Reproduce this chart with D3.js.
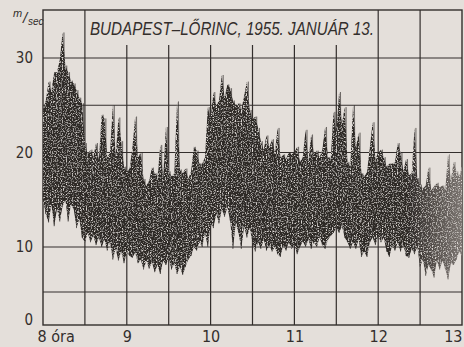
<!DOCTYPE html>
<html>
<head>
<meta charset="utf-8">
<script src="https://cdn.jsdelivr.net/npm/d3@7"></script>
<style>
  html, body { margin: 0; padding: 0; background: #e4dfda; }
  svg { display: block; }
</style>
</head>
<body>
<svg id="chart" width="464" height="347"></svg>
<script>
const hi = [
  24.5, 25.5, 27.5, 26.5, 28.5, 28.5, 29.8, 32.7, 29.2, 28.5, 27.6, 27.3, 26.6, 25.8, 25.2,
  21.0, 19.8, 20.3, 19.5, 21.0, 19.2, 24.0, 23.6, 19.5, 20.0, 25.0, 19.5, 23.7, 21.2, 18.5,
  18.0, 18.3, 20.5, 23.8, 19.5, 20.0, 17.2, 16.5, 17.0, 18.4, 17.8, 17.5, 20.8, 17.3, 22.7,
  18.0, 17.5, 17.8, 25.4, 18.2, 17.8, 18.3, 17.2, 18.0, 20.6, 20.2, 18.8, 18.8, 19.5, 24.8,
  23.5, 26.4, 25.0, 25.5, 28.2, 25.8, 27.2, 26.8, 25.5, 25.0, 25.2, 24.5, 26.0, 27.5, 24.5,
  23.5, 23.8, 22.6, 21.2, 20.3, 21.8, 20.5, 21.4, 20.0, 22.6, 19.5, 19.8, 19.3, 20.0, 19.8,
  20.0, 20.6, 19.0, 19.5, 22.4, 19.0, 21.9, 19.8, 20.2, 19.5, 20.3, 22.7, 19.5, 19.3, 24.3,
  22.0, 26.4, 23.0, 24.8, 19.0, 18.5, 25.0, 20.5, 22.1, 17.8, 17.5, 17.9, 20.5, 23.2, 19.3,
  20.0, 20.3, 19.5, 18.5, 18.8, 18.8, 19.0, 21.0, 20.0, 18.0, 19.3, 17.6, 17.8, 22.6, 17.3,
  16.6, 16.2, 16.5, 18.4, 16.0, 16.4, 16.8, 16.3, 16.5, 16.0, 19.8, 17.0, 19.0, 18.0, 17.5, 18.5
];
const lo = [
  15.0, 13.5, 12.6, 14.5, 12.2, 14.0, 12.7, 14.3, 15.0, 12.7, 14.5, 14.0, 12.0, 13.0, 11.0,
  10.5, 11.5, 10.5, 11.2, 10.2, 11.0, 10.0, 10.8, 9.6, 10.5, 8.6, 9.8, 8.5, 9.5, 8.2,
  9.4, 9.0, 8.8, 9.4, 8.2, 8.6, 7.5, 8.5, 7.6, 8.3, 7.2, 8.0, 7.0, 8.5, 8.0,
  8.8, 7.5, 8.2, 7.0, 7.8, 6.9, 7.8, 8.6, 9.0, 10.0, 9.6, 10.5, 10.0, 11.5, 10.0,
  12.5, 12.0, 13.5, 12.5, 14.0, 13.2, 14.2, 12.8, 9.8, 12.5, 11.5, 9.8, 12.2, 11.0, 12.0,
  10.5, 9.5, 10.5, 9.8, 10.8, 9.6, 10.2, 9.5, 10.0, 9.2, 8.9, 10.2, 9.6, 10.5, 9.8,
  10.3, 9.2, 10.0, 10.6, 10.0, 10.8, 9.8, 10.5, 10.0, 11.0, 10.2, 9.8, 10.8, 11.2, 11.5,
  12.0, 11.5, 12.2, 11.0, 10.5, 9.8, 10.5, 9.8, 10.8, 8.9, 9.5, 8.9, 10.5, 11.0, 10.2,
  11.2, 10.5, 11.0, 9.5, 8.9, 10.2, 9.6, 10.5, 9.5, 10.2, 9.0, 8.8, 9.8, 9.2, 10.0,
  7.8, 8.6, 6.8, 8.0, 7.5, 6.6, 8.5, 7.5, 8.5, 7.6, 6.4, 8.2, 8.0, 8.6, 9.5, 9.0
];
const stepMinutes = 2;

const hourTicks = [0, 60, 120, 180, 240, 300];
const hourLabels = ["8 óra", "9", "10", "11", "12", "13"];
const gridMinutes = [30, 60, 90, 120, 150, 180, 210, 240, 270];
const gridLevels = [5, 10, 15, 20, 25, 30];
const yTicks = [0, 10, 20, 30];
const title = "BUDAPEST–LŐRINC, 1955. JANUÁR 13.";

const ink = "#332e2c";
const plotLeft = 43, plotRight = 462, plotTop = 10, plotBottom = 325;

const svg = d3.select("#chart");

// scales (the paper scale is squeezed below 5 m/sec)
const x = d3.scaleLinear().domain([0, 300]).range([plotLeft, plotRight]);
const y = d3.scaleLinear()
  .domain([0, 5, 10, 30, 35.08])
  .range([plotBottom, 292, 247, 58, plotTop]);

const data = hi.map((h, i) => ({ t: i * stepMinutes, hi: h, lo: lo[i] }));

// defs: fading ink and speckled texture of the trace
const defs = svg.append("defs");
const grad = defs.append("linearGradient")
  .attr("id", "inkFade")
  .attr("gradientUnits", "userSpaceOnUse")
  .attr("x1", plotLeft).attr("x2", plotRight).attr("y1", 0).attr("y2", 0);
grad.append("stop").attr("offset", 0).attr("stop-color", "#2d2927");
grad.append("stop").attr("offset", 0.87).attr("stop-color", "#2d2927");
grad.append("stop").attr("offset", 0.94).attr("stop-color", "#5a5450");
grad.append("stop").attr("offset", 1).attr("stop-color", "#7a7470");

const speck = defs.append("filter")
  .attr("id", "speck")
  .attr("x", 0).attr("y", 0).attr("width", 1).attr("height", 1);
speck.append("feTurbulence")
  .attr("type", "fractalNoise")
  .attr("baseFrequency", 0.8)
  .attr("numOctaves", 2)
  .attr("seed", 4)
  .attr("result", "noise");
speck.append("feColorMatrix")
  .attr("in", "noise")
  .attr("type", "matrix")
  .attr("values", "0 0 0 0 0.72  0 0 0 0 0.69  0 0 0 0 0.66  5 0 0 0 -2.5")
  .attr("result", "spots");
speck.append("feComposite")
  .attr("in", "spots").attr("in2", "SourceGraphic")
  .attr("operator", "in").attr("result", "clipped");
const merge = speck.append("feMerge");
merge.append("feMergeNode").attr("in", "SourceGraphic");
merge.append("feMergeNode").attr("in", "clipped");

//grid
const grid = svg.append("g")
  .attr("stroke", ink)
  .attr("stroke-width", 1.2);

grid.selectAll("line.h")
  .data(gridLevels)
  .enter()
  .append("line")
  .attr("class", "h")
  .attr("x1", plotLeft).attr("x2", plotRight)
  .attr("y1", d => y(d)).attr("y2", d => y(d));

// vertical lines stop under the title box between 8:30 and 12:00
grid.selectAll("line.v")
  .data(gridMinutes)
  .enter()
  .append("line")
  .attr("class", "v")
  .attr("x1", d => x(d)).attr("x2", d => x(d))
  .attr("y1", d => (d > 30 && d < 240) ? 45 : plotTop)
  .attr("y2", plotBottom);

svg.append("rect")
  .attr("x", plotLeft).attr("y", plotTop)
  .attr("width", plotRight - plotLeft).attr("height", plotBottom - plotTop)
  .attr("fill", "none")
  .attr("stroke", ink)
  .attr("stroke-width", 1.4);

//trace
const band = d3.area()
  .x(d => x(d.t))
  .y0(d => y(d.lo))
  .y1(d => y(d.hi));

svg.append("path")
  .datum(data)
  .attr("d", band)
  .attr("fill", "url(#inkFade)")
  .attr("filter", "url(#speck)");

const zigzag = d3.line()
  .x(d => x(d.t))
  .y(d => y(d.v));

svg.append("path")
  .datum(data.flatMap(d => [{ t: d.t, v: d.lo }, { t: d.t + stepMinutes / 2, v: d.hi }]).filter(d => d.t <= 300))
  .attr("d", zigzag)
  .attr("fill", "none")
  .attr("stroke", "url(#inkFade)")
  .attr("stroke-width", 0.7)
  .attr("opacity", 0.6);

//axes
const yAxis = svg.append("g")
  .attr("transform", `translate(${plotLeft}, 0)`)
  .call(d3.axisLeft(y).tickValues(yTicks).tickSize(0).tickPadding(10));
yAxis.select(".domain").remove();
yAxis.selectAll("text")
  .attr("font-family", "'Liberation Sans Narrow', 'DejaVu Sans Condensed', sans-serif")
  .attr("font-size", "15px")
  .attr("fill", ink)
  .attr("dy", d => d === 0 ? "-0.05em" : "0.32em");

const xAxis = svg.append("g")
  .attr("transform", `translate(0, ${plotBottom})`)
  .call(d3.axisBottom(x).tickValues(hourTicks).tickSize(0).tickPadding(6)
    .tickFormat((d, i) => hourLabels[i]));
xAxis.select(".domain").remove();
xAxis.selectAll("text")
  .attr("font-family", "'Liberation Sans Narrow', 'DejaVu Sans Condensed', sans-serif")
  .attr("font-size", "16px")
  .attr("fill", ink)
  .attr("text-anchor", d => d === 0 ? "start" : d === 300 ? "end" : "middle")
  .attr("x", d => d === 0 ? -6 : 0);

//unit and title
const unit = svg.append("text")
  .attr("font-family", "'Liberation Sans Narrow', sans-serif")
  .attr("font-style", "italic")
  .attr("fill", ink);
unit.append("tspan").attr("x", 13).attr("y", 17).attr("font-size", "11px").text("m");
unit.append("tspan").attr("x", 23).attr("y", 23).attr("font-size", "15px").text("/");
unit.append("tspan").attr("x", 28).attr("y", 25).attr("font-size", "10px").text("sec");

svg.append("text")
  .attr("x", 90)
  .attr("y", 35)
  .attr("font-family", "'Liberation Sans Narrow', sans-serif")
  .attr("font-style", "italic")
  .attr("font-size", "18px")
  .attr("fill", ink)
  .attr("textLength", 284)
  .attr("lengthAdjust", "spacingAndGlyphs")
  .text(title);
</script>
</body>
</html>
